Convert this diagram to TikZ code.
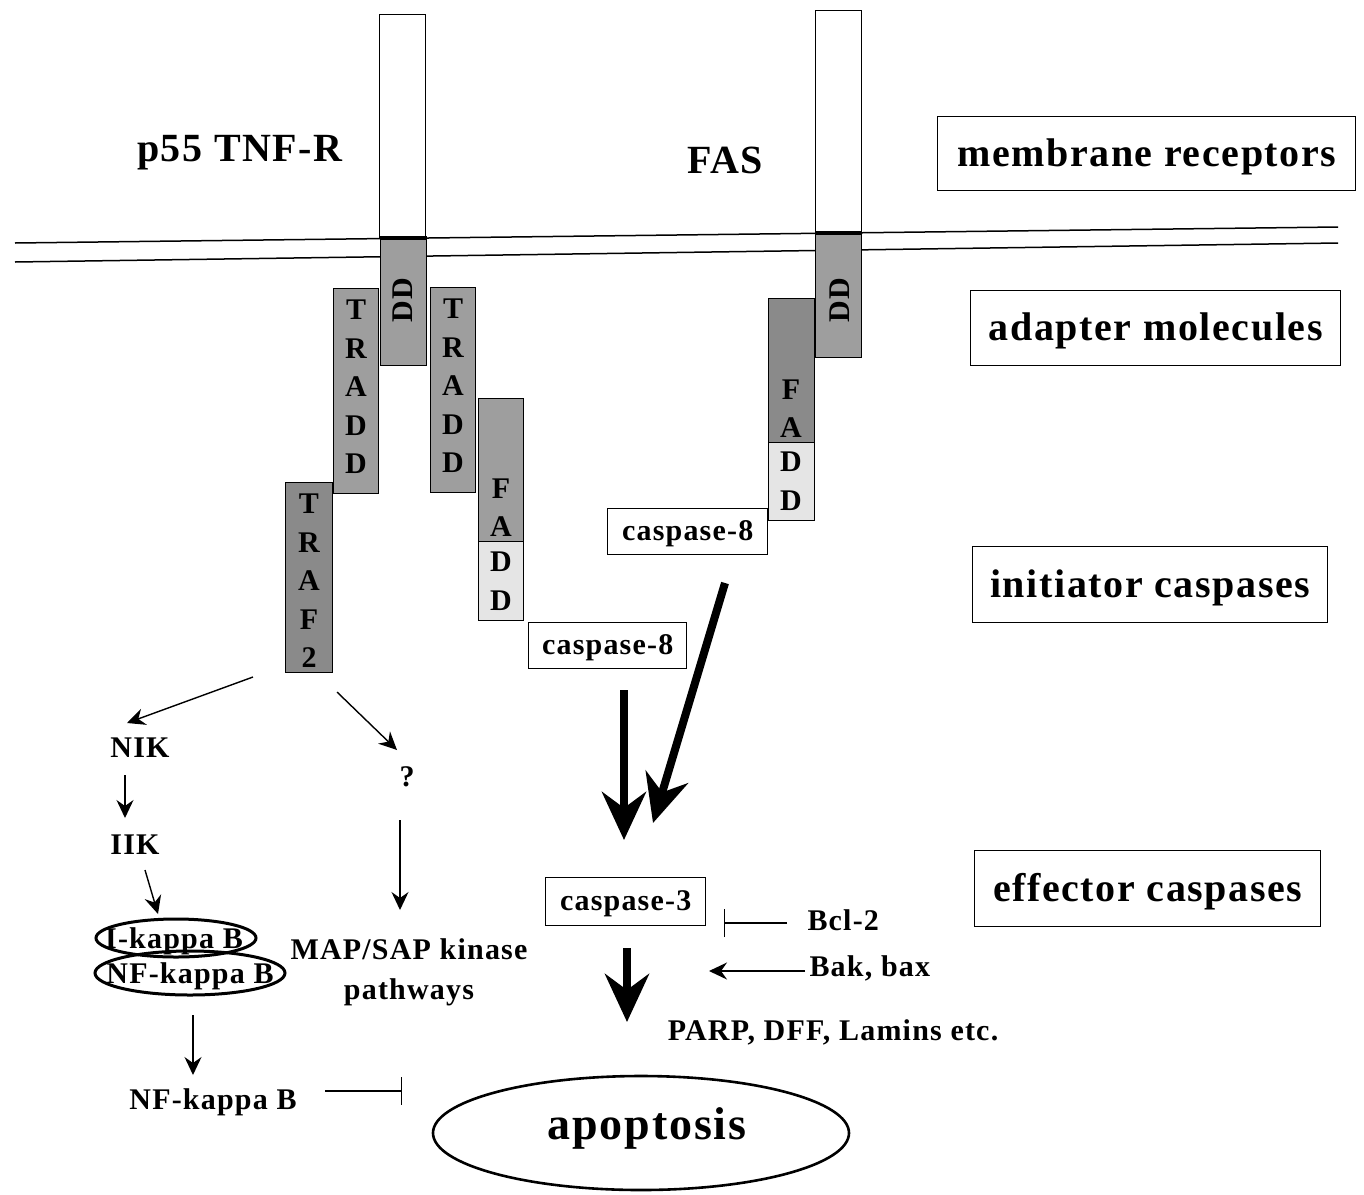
\documentclass[tikz,border=0pt]{standalone}
\usepackage{fontspec}
\setmainfont{Liberation Serif}[LetterSpace=4]
\usetikzlibrary{arrows.meta,shapes.geometric}
\definecolor{gA}{gray}{0.62}
\definecolor{gB}{gray}{0.54}
\definecolor{gL}{gray}{0.90}
\tikzset{
  big/.style={font=\fontsize{40}{44}\selectfont\bfseries},
  mid/.style={font=\fontsize{30}{34}\selectfont\bfseries},
  lett/.style={font=\fontsize{30}{38.5}\selectfont\bfseries, align=center, inner sep=0pt},
  dom/.style={draw, line width=1.3pt, inner sep=0pt, anchor=north west},
  labbox/.style={draw, line width=1.4pt, big, inner sep=0pt, anchor=north west},
  capbox/.style={draw, line width=1.4pt, mid, inner sep=0pt, anchor=north west, fill=white},
  thin/.style={line width=1.4pt, -{Stealth[length=18pt,width=17pt,inset=6pt]}},
  thick/.style={line width=8pt, -{Stealth[length=48pt,width=44pt,inset=16pt]}},
  inhib/.style={line width=1.4pt, -{Bar[width=28pt,line width=1.4pt]}},
  memb/.style={line width=1.5pt},
}
\begin{document}
\begin{tikzpicture}[x=1pt,y=-1pt]
\useasboundingbox (0,0) rectangle (1364,1194);
\fill[white] (0,0) rectangle (1364,1194);

% membrane
\coordinate (m1a) at (15,243); \coordinate (m1b) at (1338,227);
\coordinate (m2a) at (15,262); \coordinate (m2b) at (1338,243);
\draw[memb] (m1a) -- (m1b);
\draw[memb] (m2a) -- (m2b);

% TNF receptor
\node[dom, fill=white, minimum width=46, minimum height=224] (tnfr) at (379,14) {};
\node[dom, fill=gA, minimum width=46, minimum height=127] (tnfdd) at (380,238) {};
\draw[line width=3.5pt] (tnfdd.north west) -- (tnfdd.north east);
\node[lett, rotate=90] (tnfddt) at (403,300) {DD};

% TRADD left and right
\node[dom, fill=gA, minimum width=45, minimum height=205] (tradl) at (333,288) {};
\node[lett] (tradlt) at (356,387) {T\\R\\A\\D\\D};
\node[dom, fill=gA, minimum width=45, minimum height=205] (tradr) at (430,287) {};
\node[lett] (tradrt) at (453,386) {T\\R\\A\\D\\D};

% TRAF2
\node[dom, fill=gB, minimum width=47, minimum height=190] (traf) at (285,482) {};
\node[lett] (traft) at (309,581) {T\\R\\A\\F\\2};

% FADD (TNF)
\node[dom, fill=gA, minimum width=45, minimum height=143] (faddu) at (478,398) {};
\node[dom, fill=gL, minimum width=45, minimum height=79] (faddl) at (478,541) {};
\node[lett, anchor=south] (fadduT) at (501,537) {F\\A};
\node[lett] (faddlT) at (501,581) {D\\D};
\node[capbox, minimum width=158, minimum height=46] (c8a) at (528,622) {};
\node[mid] (c8at) at ([yshift=-2]c8a.center) {caspase-8};

% FAS receptor
\node[dom, fill=white, minimum width=46, minimum height=223] (fasr) at (815,10) {};
\node[dom, fill=gA, minimum width=46, minimum height=124] (fasdd) at (815,233) {};
\draw[line width=3.5pt] (fasdd.north west) -- (fasdd.north east);
\node[lett, rotate=90] (fasddt) at (840,300) {DD};
\node[dom, fill=gB, minimum width=46, minimum height=144] (ffaddu) at (768,298) {};
\node[dom, fill=gL, minimum width=46, minimum height=78] (ffaddl) at (768,442) {};
\node[lett, anchor=south] (ffadduT) at (791,438) {F\\A};
\node[lett] (ffaddlT) at (791,481) {D\\D};
\node[capbox, minimum width=160, minimum height=46] (c8b) at (607,508) {};
\node[mid] (c8bt) at ([yshift=-2]c8b.center) {caspase-8};

% receptor names
\node[big] (p55) at (240,153) {p55 TNF-R};
\node[big] (fas) at (725,160) {FAS};

% right label boxes
\node[labbox, minimum width=418, minimum height=74] (lb1) at (937,116) {};
\node[big] (lb1t) at ([yshift=-3]lb1.center) {membrane receptors};
\node[labbox, minimum width=370, minimum height=75] (lb2) at (970,290) {};
\node[big] (lb2t) at ([yshift=-3]lb2.center) {adapter molecules};
\node[labbox, minimum width=355, minimum height=76] (lb3) at (972,546) {};
\node[big] (lb3t) at ([yshift=-3]lb3.center) {initiator caspases};
\node[labbox, minimum width=346, minimum height=76] (lb4) at (974,850) {};
\node[big] (lb4t) at ([yshift=-3]lb4.center) {effector caspases};

% left pathway
\node[mid] (nik) at (140,748) {NIK};
\node[mid] (q) at (407,777) {?};
\node[mid] (iik) at (135,845) {IIK};
\node[draw, ellipse, line width=3pt, minimum width=160, minimum height=38, inner sep=0pt] (ikbe) at (176,938) {};
\node[mid] (ikbt) at (174,941) {I-kappa B};
\node[draw, ellipse, line width=3pt, minimum width=190, minimum height=44, inner sep=0pt] (nfkbe) at (190,973) {};
\node[mid] (nfkbt) at (190,976) {NF-kappa B};
\node[mid, align=center, font=\fontsize{30}{40}\selectfont\bfseries] (map) at (409,972) {MAP/SAP kinase\\pathways};
\node[mid] (nfkb) at (213,1102) {NF-kappa B};

\coordinate (a1s) at (253,677); \coordinate (a1e) at (127,723);
\draw[thin] (a1s) -- (a1e);
\coordinate (a2s) at (337,692); \coordinate (a2e) at (397,750);
\draw[thin] (a2s) -- (a2e);
\coordinate (a3s) at (125,775); \coordinate (a3e) at (125,818);
\draw[thin] (a3s) -- (a3e);
\coordinate (a4s) at (145,870); \coordinate (a4e) at (158,914);
\draw[thin] (a4s) -- (a4e);
\coordinate (a5s) at (400,820); \coordinate (a5e) at (400,910);
\draw[thin] (a5s) -- (a5e);
\coordinate (a6s) at (193,1015); \coordinate (a6e) at (193,1075);
\draw[thin] (a6s) -- (a6e);
\coordinate (i1s) at (325,1091); \coordinate (i1e) at (402,1091);
\draw[inhib] (i1s) -- (i1e);

% central cascade
\coordinate (t1s) at (624,690); \coordinate (t1e) at (624,840);
\draw[thick] (t1s) -- (t1e);
\coordinate (t2s) at (725,583); \coordinate (t2e) at (653,823);
\draw[thick] (t2s) -- (t2e);
\node[capbox, minimum width=160, minimum height=48] (c3) at (545,877) {};
\node[mid] (c3t) at ([yshift=-2]c3.center) {caspase-3};
\node[mid, anchor=west] (bcl) at (804,920) {Bcl-2};
\node[mid, anchor=west] (bak) at (806,968) {Bak, bax};
\coordinate (i2s) at (787,923); \coordinate (i2e) at (724,923);
\draw[inhib] (i2s) -- (i2e);
\coordinate (b1s) at (805,971); \coordinate (b1e) at (709,971);
\draw[thin] (b1s) -- (b1e);
\coordinate (t3s) at (627,948); \coordinate (t3e) at (627,1022);
\draw[thick] (t3s) -- (t3e);
\node[mid] (parp) at (833,1032) {PARP, DFF, Lamins etc.};

\node[draw, ellipse, line width=2.6pt, minimum width=416, minimum height=114, inner sep=0pt] (apo) at (641,1133) {};
\node[font=\fontsize{46}{50}\selectfont\bfseries] (apot) at (647,1128) {apoptosis};
\end{tikzpicture}
\end{document}
